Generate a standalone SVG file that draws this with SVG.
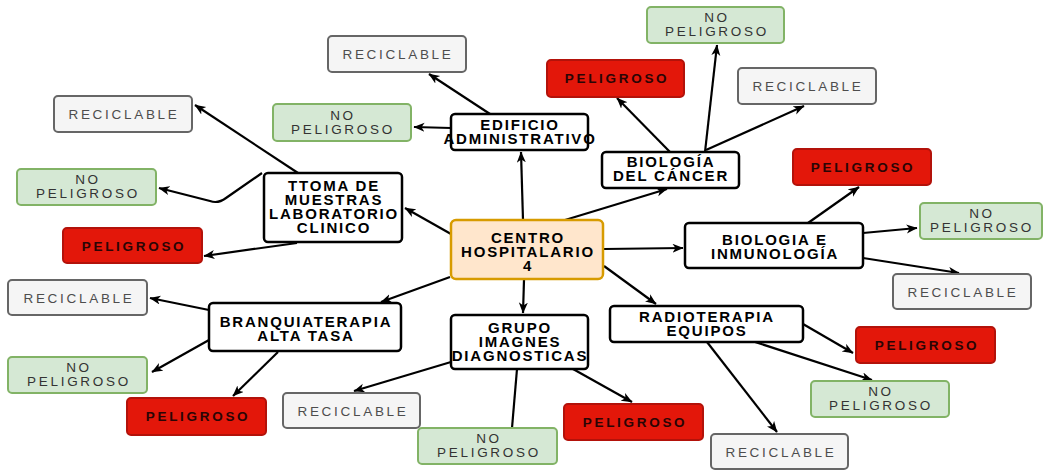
<svg xmlns="http://www.w3.org/2000/svg" width="1048" height="470" viewBox="0 0 1048 470">
<style>
.node rect{fill:#ffffff;stroke:#000000;stroke-width:2.5}
.center rect{fill:#ffe6cc;stroke:#d79b00;stroke-width:2.5}
.nt{font-family:"Liberation Sans",Arial,sans-serif;font-weight:bold;font-size:15px;letter-spacing:1.8px;fill:#000;text-anchor:middle}
.rec rect{fill:#f5f5f5;stroke:#666666;stroke-width:2}
.np rect{fill:#d5e8d4;stroke:#82b366;stroke-width:2}
.pel rect{fill:#e3170a;stroke:#b3120a;stroke-width:2}
.lt{font-family:"Liberation Sans",Arial,sans-serif;font-size:13.5px;letter-spacing:2.7px;text-anchor:middle}
.rec text{fill:#4d4d4d}
.np text{fill:#333333}
.pel text{fill:#2a0505;font-weight:bold}
.edges path{fill:none;stroke:#000;stroke-width:2.2}
.edges .a{marker-end:url(#arr)}
</style>
<defs>
<marker id="arr" markerUnits="userSpaceOnUse" markerWidth="12" markerHeight="10" refX="10.5" refY="4.5" orient="auto">
<path d="M0,0 L11,4.5 L0,9 L3,4.5 z" fill="#000"/>
</marker>
</defs>
<rect width="1048" height="470" fill="#ffffff"/>

<g class="edges">
<path class="a" d="M523,220 L521,152"/>
<path class="a" d="M565,220 L667,189"/>
<path class="a" d="M451,234 L405,208"/>
<path class="a" d="M604,249 L683,248"/>
<path class="a" d="M604,266 L656,304"/>
<path class="a" d="M524,280 L523,313"/>
<path class="a" d="M450,277 L381,302"/>
<path class="a" d="M490,114 L429,74"/>
<path class="a" d="M451,128 L414,127"/>
<path class="a" d="M670,152 L617,98"/>
<path class="a" d="M705,152 L717,45"/>
<path class="a" d="M706,150 L804,106"/>
<path class="a" d="M808,223 L859,187"/>
<path class="a" d="M863,233 L917,228"/>
<path class="a" d="M863,258 L959,273"/>
<path class="a" d="M803,324 L853,353"/>
<path class="a" d="M755,342 L872,380"/>
<path class="a" d="M707,342 L777,432"/>
<path class="a" d="M451,362 L354,391"/>
<path d="M517,369 L512,428"/>
<path class="a" d="M573,369 L632,402"/>
<path class="a" d="M209,310 L150,298"/>
<path class="a" d="M209,340 L152,372"/>
<path class="a" d="M278,352 L233,396"/>
<path class="a" d="M298,173 L195,105"/>
<path class="a" d="M262,173 L226,198 Q218,204 210,201 L159,188"/>
<path class="a" d="M297,243 L204,256"/>
</g>

<g id="centro" class="center"><rect x="451" y="220" width="152" height="59" rx="5"/>
<text class="nt" x="528" y="243">CENTRO</text><text class="nt" x="528" y="257">HOSPITALARIO</text><text class="nt" x="528" y="271">4</text></g>
<g id="edificio" class="node"><rect x="451" y="114" width="137" height="36" rx="4"/>
<text class="nt" x="520" y="130">EDIFICIO</text><text class="nt" x="520" y="144">ADMINISTRATIVO</text></g>
<g id="cancer" class="node"><rect x="602" y="152" width="137" height="36" rx="4"/>
<text class="nt" x="671" y="167">BIOLOGÍA</text><text class="nt" x="671" y="181">DEL CÁNCER</text></g>
<g id="inmuno" class="node"><rect x="685" y="223" width="178" height="45" rx="4"/>
<text class="nt" x="775" y="245">BIOLOGIA E</text><text class="nt" x="775" y="259">INMUNOLOGÍA</text></g>
<g id="radio" class="node"><rect x="610" y="306" width="193" height="36" rx="4"/>
<text class="nt" x="707" y="322">RADIOTERAPIA</text><text class="nt" x="707" y="336">EQUIPOS</text></g>
<g id="grupo" class="node"><rect x="451" y="315" width="137" height="54" rx="4"/>
<text class="nt" x="520" y="333">GRUPO</text><text class="nt" x="520" y="347">IMAGNES</text><text class="nt" x="520" y="361">DIAGNOSTICAS</text></g>
<g id="branq" class="node"><rect x="209" y="303" width="192" height="48" rx="4"/>
<text class="nt" x="306" y="327">BRANQUIATERAPIA</text><text class="nt" x="306" y="341">ALTA TASA</text></g>
<g id="ttoma" class="node"><rect x="264" y="173" width="138" height="69" rx="4"/>
<text class="nt" x="334" y="191">TTOMA DE</text><text class="nt" x="334" y="205">MUESTRAS</text><text class="nt" x="334" y="219">LABORATORIO</text><text class="nt" x="334" y="233">CLINICO</text></g>

<g id="r1" class="rec"><rect x="328" y="36" width="138" height="36" rx="4"/><text class="lt" x="398" y="59">RECICLABLE</text></g>
<g id="n1" class="np"><rect x="273" y="104" width="138" height="37" rx="4"/><text class="lt" x="343" y="120">NO</text><text class="lt" x="343" y="134">PELIGROSO</text></g>
<g id="p1" class="pel"><rect x="547" y="60" width="137" height="37" rx="4"/><text class="lt" x="617" y="83">PELIGROSO</text></g>
<g id="n2" class="np"><rect x="647" y="7" width="137" height="36" rx="4"/><text class="lt" x="717" y="22">NO</text><text class="lt" x="717" y="36">PELIGROSO</text></g>
<g id="r2" class="rec"><rect x="738" y="68" width="138" height="36" rx="4"/><text class="lt" x="808" y="91">RECICLABLE</text></g>
<g id="p2" class="pel"><rect x="793" y="149" width="138" height="36" rx="4"/><text class="lt" x="863" y="172">PELIGROSO</text></g>
<g id="n3" class="np"><rect x="920" y="203" width="122" height="36" rx="4"/><text class="lt" x="982" y="218">NO</text><text class="lt" x="982" y="232">PELIGROSO</text></g>
<g id="r3" class="rec"><rect x="893" y="274" width="138" height="35" rx="4"/><text class="lt" x="963" y="297">RECICLABLE</text></g>
<g id="p3" class="pel"><rect x="856" y="327" width="139" height="36" rx="4"/><text class="lt" x="927" y="350">PELIGROSO</text></g>
<g id="n4" class="np"><rect x="811" y="381" width="138" height="36" rx="4"/><text class="lt" x="881" y="396">NO</text><text class="lt" x="881" y="410">PELIGROSO</text></g>
<g id="r4" class="rec"><rect x="711" y="434" width="137" height="35" rx="4"/><text class="lt" x="781" y="457">RECICLABLE</text></g>
<g id="p4" class="pel"><rect x="564" y="404" width="139" height="36" rx="4"/><text class="lt" x="635" y="427">PELIGROSO</text></g>
<g id="n5" class="np"><rect x="418" y="428" width="139" height="36" rx="4"/><text class="lt" x="489" y="443">NO</text><text class="lt" x="489" y="457">PELIGROSO</text></g>
<g id="r5" class="rec"><rect x="283" y="393" width="137" height="35" rx="4"/><text class="lt" x="353" y="416">RECICLABLE</text></g>
<g id="p5" class="pel"><rect x="127" y="398" width="139" height="37" rx="4"/><text class="lt" x="198" y="421">PELIGROSO</text></g>
<g id="n6" class="np"><rect x="8" y="357" width="139" height="36" rx="4"/><text class="lt" x="79" y="372">NO</text><text class="lt" x="79" y="386">PELIGROSO</text></g>
<g id="r6" class="rec"><rect x="8" y="280" width="139" height="35" rx="4"/><text class="lt" x="79" y="303">RECICLABLE</text></g>
<g id="p6" class="pel"><rect x="63" y="228" width="139" height="35" rx="4"/><text class="lt" x="134" y="251">PELIGROSO</text></g>
<g id="n7" class="np"><rect x="17" y="169" width="139" height="36" rx="4"/><text class="lt" x="88" y="184">NO</text><text class="lt" x="88" y="198">PELIGROSO</text></g>
<g id="r7" class="rec"><rect x="54" y="96" width="138" height="36" rx="4"/><text class="lt" x="124" y="119">RECICLABLE</text></g>
</svg>
